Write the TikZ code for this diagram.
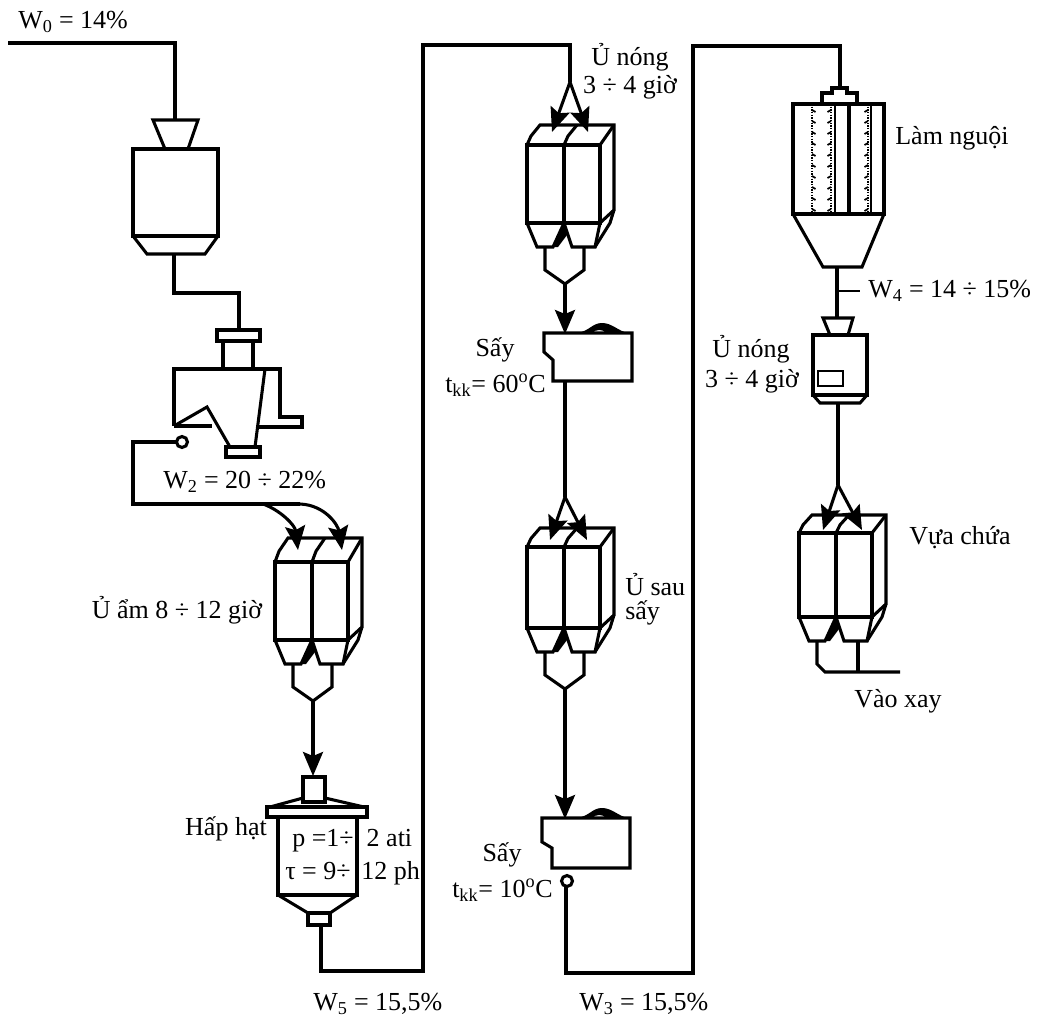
\documentclass[tikz,border=0pt]{standalone}
\usepackage{fontspec}
\setmainfont{Liberation Serif}
\usetikzlibrary{arrows.meta}
\tikzset{
  eq/.style={line width=2.3pt,line join=miter},
  conduit/.style={line width=2.3pt,line join=miter},
  feedline/.style={line width=2.3pt,-{Stealth[length=18pt,width=15pt,inset=3pt]}},
  lbl/.style={inner sep=0pt,font=\fontsize{19.5}{22}\selectfont},
  lbll/.style={lbl,anchor=west},
}
% name, x, y, right-target x, depth, height, arrow y, left-target x
\newcommand{\silobox}[8]{%
\begin{scope}[shift={(#2,#3)}]
  \pgfmathsetmacro{\silB}{#6+24}
  \pgfmathsetmacro{\silC}{#6+47}
  \pgfmathsetmacro{\silT}{#6+61}
  \pgfmathsetmacro{\silQ}{#6+12}
  \pgfmathsetmacro{\silS}{#6-13}
  \pgfmathsetmacro{\silR}{#6+2}
  \pgfmathsetmacro{\silD}{-#5*0.45}
  \draw[eq] (0,0) rectangle (73,#6);
  \draw[conduit] (37,0) -- (37,#6);
  \draw[eq] (0,0) -- (4,\silD) -- (13,-#5) -- (87,-#5) -- (87,\silS) -- (73,#6);
  \draw[eq] (37,0) -- (41,\silD) -- (50,-#5);
  \draw[eq] (73,0) -- (87,-#5);
  \draw[eq] (0,#6) -- (10,\silB) -- (26,\silB) -- (37,#6);
  \draw[eq] (37,#6) -- (45,\silB) -- (68,\silB) -- (73,#6);
  \draw[eq] (68,\silB) -- (83,#6) -- (87,\silS);
  \fill (37,\silR) -- (26,\silB) -- (31,\silB) -- (40,\silQ) -- cycle;
  \coordinate (#1-l) at (#8,#7);
  \coordinate (#1-r) at (#4,#7);
  \coordinate (#1-a) at (18,\silB);
  \coordinate (#1-b) at (57,\silB);
  \coordinate (#1-c) at (18,\silC);
  \coordinate (#1-d) at (57,\silC);
  \coordinate (#1-tip) at (38,\silT);
\end{scope}}
\begin{document}
\begin{tikzpicture}[x=0.75pt,y=-0.75pt]
\useasboundingbox (0,0) rectangle (1046,1020);

% feeder 1
\coordinate (start) at (8,43);
\coordinate (hop1) at (175,120);
\draw[eq] (153,120) -- (198,120) -- (188,149) -- (165,149) -- cycle;
\draw[eq] (133,149) rectangle (218,236);
\draw[eq] (133,236) -- (147,254) -- (205,254) -- (218,236);
\coordinate (box1out) at (174,254);
\draw[conduit] (start) -| (hop1);

% cyclone
\coordinate (cyc) at (239,330);
\coordinate (bend1) at (174,293);
\coordinate (bend2) at (239,293);
\draw[conduit] (box1out) -- (bend1) -- (bend2) -- (cyc);
\draw[eq] (217,330) rectangle (260,341);
\draw[eq] (223,341) -- (223,369);
\draw[eq] (253,341) -- (253,369);
\draw[eq] (174,426) -- (174,369) -- (280,369) -- (280,417) -- (302,417) -- (302,427) -- (258,427);
\draw[eq] (174,426) -- (212,426);
\draw[eq] (174,426) -- (207,407) -- (230,447);
\draw[eq] (265,369) -- (255,447);
\draw[eq] (226,447) rectangle (260,457);
\draw[eq] (182,442) circle (5.5);
\coordinate (cycout) at (176,442);
\coordinate (a1) at (133,442);
\coordinate (a2) at (263,504);
\coordinate (a3) at (300,504);

% silo 1
\silobox{s1}{275}{562}{67}{24}{78}{-12}{23}
\draw[conduit] (cycout) -- (a1) |- (a3);
\draw[feedline] (a2) .. controls (280,510) and (295,525) .. (s1-l);
\draw[feedline] (a3) .. controls (325,505) and (338,525) .. (s1-r);
\draw[eq] (s1-a) -- (s1-c) -- (s1-tip) -- (s1-d) -- (s1-b);

% steamer
\coordinate (st) at (313,776);
\draw[feedline] (s1-tip) -- (st);
\draw[eq] (303,777) rectangle (325,802);
\draw[eq] (270,807) -- (303,798);
\draw[eq] (325,798) -- (364,807);
\draw[eq] (267,807) rectangle (367,817);
\draw[eq] (278,817) -- (278,895) -- (357,895) -- (357,817);
\draw[eq] (278,895) -- (308,913) -- (330,913) -- (357,895);
\draw[eq] (308,913) rectangle (330,925);
\coordinate (stout) at (321,925);
\coordinate (c1) at (423,971);
\coordinate (c2) at (423,45);
\coordinate (apex2) at (570,82);

% silo 2
\silobox{s2}{527}{145}{61}{20}{78}{-13}{25}
\draw[conduit] (stout) |- (c1) -- (c2) -| (apex2);
\draw[feedline] (apex2) -- (s2-l);
\draw[feedline] (apex2) -- (s2-r);
\draw[eq] (s2-a) -- (s2-c) -- (s2-tip) -- (s2-d) -- (s2-b);

% dryer 1
\coordinate (d1in) at (565,334);
\draw[feedline] (s2-tip) -- (d1in);
\draw[eq] (544,333) -- (632,333) -- (632,381) -- (553,381) -- (553,360) -- (544,352) -- cycle;
\fill (577,333) .. controls (590,331) and (592,323) .. (602,323) .. controls (612,323) and (618,331) .. (628,333) -- (606,333) .. controls (603,329) and (596,329) .. (592,333) -- cycle;
\coordinate (d1out) at (565,381);
\coordinate (apex3) at (565,497);

% silo 3
\silobox{s3}{527}{547}{60}{19}{81}{-7}{23}
\draw[conduit] (d1out) -- (apex3);
\draw[feedline] (apex3) -- (s3-l);
\draw[feedline] (apex3) -- (s3-r);
\draw[eq] (s3-a) -- (s3-c) -- (s3-tip) -- (s3-d) -- (s3-b);

% dryer 2
\coordinate (d2in) at (565,819);
\draw[feedline] (s3-tip) -- (d2in);
\draw[eq] (542,818) -- (630,818) -- (630,868) -- (552,868) -- (552,848) -- (542,842) -- cycle;
\fill (577,818) .. controls (590,816) and (592,808) .. (602,808) .. controls (612,808) and (618,816) .. (628,818) -- (606,818) .. controls (603,814) and (596,814) .. (592,818) -- cycle;
\draw[eq] (567,881) circle (5.5);
\coordinate (d2out) at (566,887);
\coordinate (e1) at (693,973);
\coordinate (e2) at (693,46);
\coordinate (cool) at (840,88);
\draw[conduit] (d2out) |- (e1) -- (e2) -| (cool);

% cooler
\draw[eq] (822,103) -- (822,93) -- (832,93) -- (832,88) -- (847,88) -- (847,93) -- (857,93) -- (857,103);
\draw[eq] (793,104) rectangle (884,214);
\draw[line width=3pt] (849,104) -- (849,214);
\draw[line width=1.3pt] (835,104) -- (835,214);
\draw[line width=1.3pt] (871,104) -- (871,214);
\foreach \cx/\dr in {812/1,831/-1,868/-1} {
  \draw[line width=1pt,densely dotted] (\cx,104) -- (\cx,214);
  \foreach \yy in {110,121,...,210}
    \draw[line width=1.3pt] (\cx,\yy) -- ++(\dr*3.5,2);
}
\draw[eq] (793,214) -- (823,267) -- (862,267) -- (884,214);
\coordinate (coolout) at (837,267);
\coordinate (hop5) at (837,318);
\coordinate (tick) at (860,291);
\draw[conduit] (coolout) -- (hop5);
\draw[line width=1.2pt] (837,291) -- (tick);

% tempering bin
\draw[eq] (823,318) -- (853,318) -- (848,335) -- (830,335) -- cycle;
\draw[eq] (813,335) rectangle (867,395);
\draw[line width=1.5pt] (818,371) rectangle (843,386);
\draw[eq] (813,395) -- (820,403) -- (860,403) -- (867,395);
\coordinate (binout) at (838,403);
\coordinate (apex4) at (838,485);

% silo 4
\silobox{s4}{799}{533}{63}{18}{84}{-3}{24}
\draw[conduit] (binout) -- (apex4);
\draw[feedline] (apex4) -- (s4-l);
\draw[feedline] (apex4) -- (s4-r);
\coordinate (leg1) at (817,641);
\coordinate (leg2) at (858,641);
\coordinate (mill) at (900,672);
\draw[eq] (leg1) -- (817,664) -- (825,672) -- (mill);
\draw[eq] (leg2) -- (858,672);

% labels
\node[lbll] (t1) at (18,22) {W\textsubscript{0} = 14\%};
\node[lbl] (t2) at (630,57) {Ủ nóng};
\node[lbl] (t3) at (630,87) {3 ÷ 4 giờ};
\node[lbl] (t4) at (952,138) {Làm nguội};
\node[lbll] (t5) at (868,291) {W\textsubscript{4} = 14 ÷ 15\%};
\node[lbl] (t6) at (751,349) {Ủ nóng};
\node[lbl] (t7) at (752,381) {3 ÷ 4 giờ};
\node[lbl] (t8) at (495,350) {Sấy};
\node[lbll] (t9) at (445,385) {t\textsubscript{kk}= 60\textsuperscript{o}C};
\node[lbll] (t10) at (163,482) {W\textsubscript{2} = 20 ÷ 22\%};
\node[lbl] (t11) at (177,610) {Ủ ẩm 8 ÷ 12 giờ};
\node[lbl] (t12) at (960,538) {Vựa chứa};
\node[lbll] (t13) at (625,585) {Ủ sau};
\node[lbll] (t14) at (625,613) {sấy};
\node[lbl] (t15) at (898,701) {Vào xay};
\node[lbl] (t16) at (226,829) {Hấp hạt};
\node[lbll] (t17) at (292,841) {p =1÷ \ 2 ati};
\node[lbll] (t18) at (285,873) {τ = 9÷ \,12 ph};
\node[lbl] (t19) at (502,855) {Sấy};
\node[lbll] (t20) at (452,890) {t\textsubscript{kk}= 10\textsuperscript{o}C};
\node[lbll] (t21) at (313,1004) {W\textsubscript{5} = 15,5\%};
\node[lbll] (t22) at (579,1004) {W\textsubscript{3} = 15,5\%};
\end{tikzpicture}
\end{document}
